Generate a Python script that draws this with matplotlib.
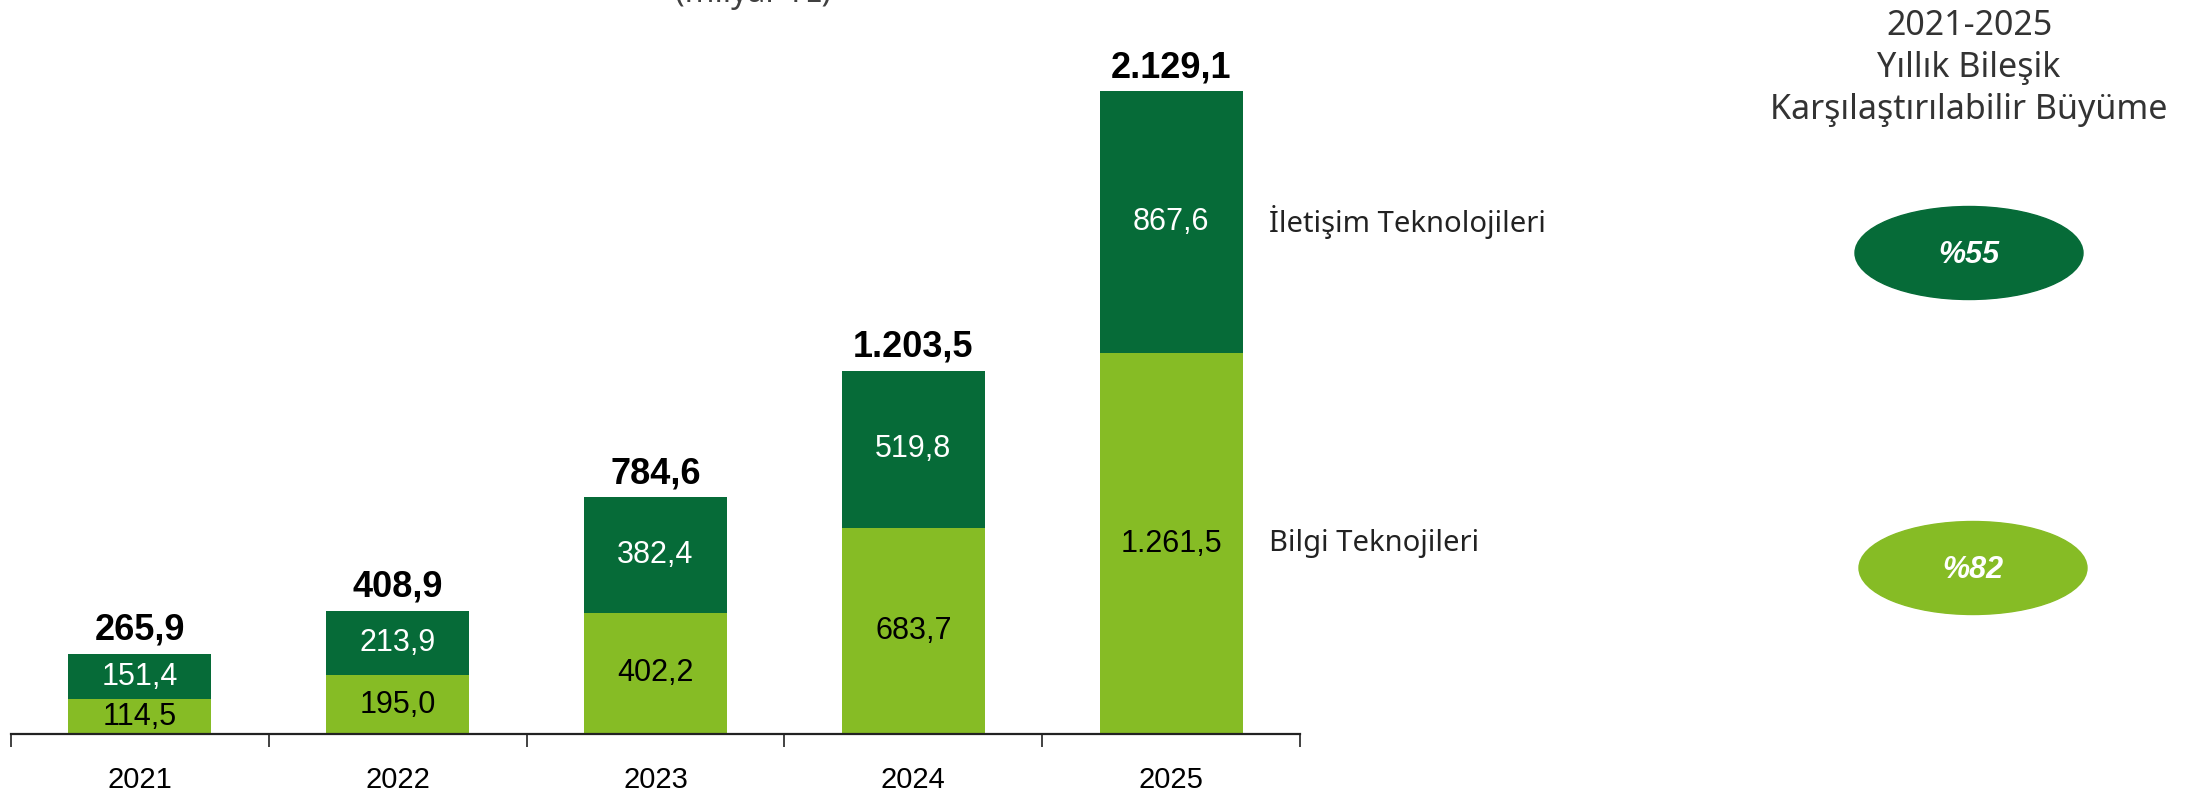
import matplotlib.pyplot as plt
from matplotlib.patches import Ellipse

# data (milyar TL)
years = ['2021', '2022', '2023', '2024', '2025']
bilgi = [114.5, 195.0, 402.2, 683.7, 1261.5]
iletisim = [151.4, 213.9, 382.4, 519.8, 867.6]
totals = [265.9, 408.9, 784.6, 1203.5, 2129.1]
series_names = ['Bilgi Teknojileri', 'İletişim Teknolojileri']
growth_labels = ['%55', '%82']

DARK = '#066B38'
LIGHT = '#86BC25'
GREY = '#333333'


def tr_fmt(v):
    # turkish number format: 2.129,1
    s = f'{v:,.1f}'
    return s.replace(',', 'X').replace('.', ',').replace('X', '.')


plt.rcParams['font.family'] = ['Liberation Sans', 'DejaVu Sans']

fig = plt.figure(figsize=(21.96, 7.93), dpi=100)
ax = fig.add_axes([11 / 2196, 59 / 793, 1289 / 2196, 0.8759])

x = list(range(len(years)))
w = 0.555
ax.bar(x, bilgi, width=w, color=LIGHT)
ax.bar(x, iletisim, width=w, bottom=bilgi, color=DARK)

for i in x:
    ax.text(i, bilgi[i] / 2, tr_fmt(bilgi[i]), ha='center', va='center',
            fontsize=22, color='black')
    ax.text(i, bilgi[i] + iletisim[i] / 2, tr_fmt(iletisim[i]), ha='center',
            va='center', fontsize=22, color='white')
    ax.annotate(tr_fmt(totals[i]), (i, totals[i]), xytext=(0, 10),
                textcoords='offset points', ha='center', va='baseline',
                fontsize=26, fontweight='bold', color='black')

# series names next to the last bar
last = len(years) - 1
ax.annotate(series_names[1], (last + w / 2, bilgi[last] + iletisim[last] / 2),
            xytext=(19, 0), textcoords='offset points', ha='left', va='center',
            fontsize=21, color='#222222', family=['Noto Sans', 'DejaVu Sans'])
ax.annotate(series_names[0], (last + w / 2, bilgi[last] / 2),
            xytext=(19, 0), textcoords='offset points', ha='left', va='center',
            fontsize=21, color='#222222', family=['Noto Sans', 'DejaVu Sans'])

ax.set_xlim(-0.5, len(years) - 0.5)
ax.set_ylim(0, 2300)
for s in ['top', 'right', 'left']:
    ax.spines[s].set_visible(False)
ax.spines['bottom'].set_linewidth(1.6)
ax.spines['bottom'].set_color('#222222')
ax.set_yticks([])
ax.set_xticks(x)
ax.set_xticklabels(years, fontsize=21)
ax.set_xticks([i - 0.5 for i in range(len(years) + 1)], minor=True)
ax.tick_params(axis='x', which='major', length=0, pad=23)
ax.tick_params(axis='x', which='minor', length=9, width=1.2, color='#222222',
               direction='out')

# title (cut at the top in the original)
fig.text(753 / 2196, 1 - 2 / 793, '(milyar TL)', ha='center', va='baseline',
         fontsize=23, color='#404040', family=['Noto Sans', 'DejaVu Sans'])

# CAGR block on the right
fig.text(1969 / 2196, 1 - 68 / 793,
         '2021-2025\nYıllık Bileşik\nKarşılaştırılabilir Büyüme',
         ha='center', va='center', fontsize=24.5, color=GREY, linespacing=1.3,
         family=['Noto Sans', 'DejaVu Sans'])

ell_centers = [(1969, 253), (1973, 568)]
ell_colors = [DARK, LIGHT]
for (cx, cy), col, lab in zip(ell_centers, ell_colors, growth_labels):
    e = Ellipse((cx / 2196, 1 - cy / 793), 228 / 2196, 93 / 793,
                transform=fig.transFigure, color=col)
    fig.patches.append(e)
    fig.text(cx / 2196, 1 - (cy + 2) / 793, lab, ha='center', va='center',
             fontsize=22, fontweight='bold', fontstyle='italic', color='white')

fig.savefig('out.png', dpi=100)
